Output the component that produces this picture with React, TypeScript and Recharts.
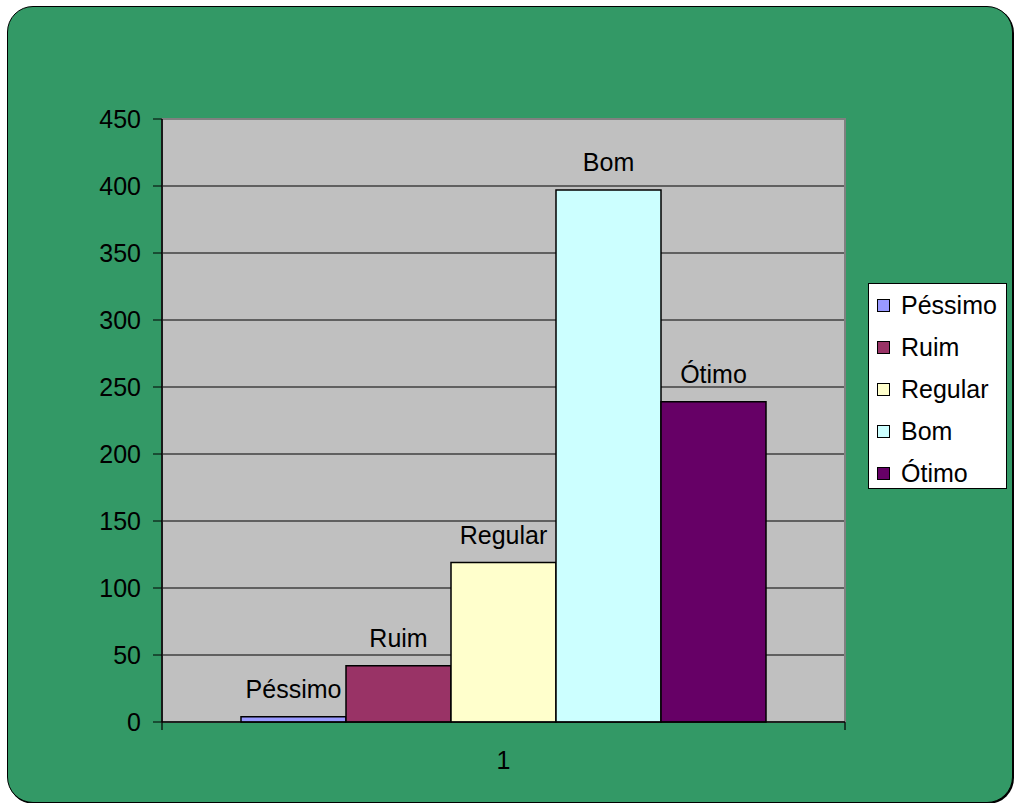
import React from "react";
import * as R from "recharts";
import { BarChart, Bar, XAxis, YAxis, CartesianGrid, Legend, LabelList } from "recharts";

const categories = ["1"];
const seriesNames = ["Péssimo", "Ruim", "Regular", "Bom", "Ótimo"];
const seriesValues = [4, 42, 119, 397, 239];
const seriesColors = ["#9999FF", "#993366", "#FFFFCC", "#CCFFFF", "#660066"];
const yTicks = [0, 50, 100, 150, 200, 250, 300, 350, 400, 450];

const data = categories.map((c) => {
  const row: Record<string, string | number> = { name: c };
  seriesNames.forEach((s, i) => {
    row[s] = seriesValues[i];
  });
  return row;
});

const FONT = "'Liberation Sans', Arial, Helvetica, sans-serif";
const FS = 25;

const usePA: any = (R as any).usePlotArea;

function PlotFrame() {
  const area = usePA ? usePA() : null;
  if (!area) return null;
  const { x, y, width, height } = area;
  return (
    <g>
      <rect x={x} y={y} width={width} height={height} fill="none" stroke="#808080" strokeWidth={2} />
      <line x1={x} y1={y} x2={x} y2={y + height + 8} stroke="#000" strokeWidth={1.2} />
      <line x1={x + width} y1={y + height} x2={x + width} y2={y + height + 8} stroke="#000" strokeWidth={1.2} />
      <line x1={x} y1={y + height} x2={x + width} y2={y + height} stroke="#000" strokeWidth={1.2} />
    </g>
  );
}

function LegendBox(props: any) {
  const payload = [...(props.payload || [])].sort(
    (a: any, b: any) => seriesNames.indexOf(a.value) - seriesNames.indexOf(b.value)
  );
  return (
    <div
      style={{
        width: 139,
        height: 206,
        background: "#fff",
        border: "1px solid #000",
        boxSizing: "border-box",
        fontFamily: FONT,
        fontSize: FS,
        color: "#000",
        paddingTop: 0,
      }}
    >
      {payload.map((p: any, i: number) => (
        <div key={i} style={{ height: 42, display: "flex", alignItems: "center", paddingLeft: 8 }}>
          <span
            style={{
              display: "inline-block",
              width: 13,
              height: 13,
              background: p.color,
              border: "1px solid #000",
              boxSizing: "border-box",
              marginRight: 11,
            }}
          />
          <span style={{ lineHeight: "28px" }}>{p.value}</span>
        </div>
      ))}
    </div>
  );
}

export default function App() {
  return (
    <div style={{ position: "absolute", left: 0, top: 0, width: 1014, height: 803 }}>
      <div
        style={{
          position: "absolute",
          left: 7,
          top: 6,
          width: 1006,
          height: 797,
          boxSizing: "border-box",
          background: "#339966",
          border: "1.5px solid #000",
          borderRadius: 26,
          boxShadow: "1px 1px 0 #000",
        }}
      />
      <div style={{ position: "absolute", left: 0, top: 0 }}>
        <BarChart
          width={1014}
          height={803}
          data={data}
          margin={{ top: 119, right: 169, left: 102, bottom: 41 }}
          barCategoryGap={79}
          barGap={0}
          style={{ fontFamily: FONT }}
        >
          <CartesianGrid horizontal vertical={false} fill="#C0C0C0" stroke="#000" strokeOpacity={1} />
          <PlotFrame />
          <XAxis
            dataKey="name"
            tickLine={false}
            tickSize={0}
            tickMargin={29}
            height={40}
            axisLine={{ stroke: "#000" }}
            tick={{ fill: "#000", fontSize: FS, fontFamily: FONT }}
          />
          <YAxis
            type="number"
            domain={[0, 450]}
            ticks={yTicks}
            interval={0}
            width={60}
            tickSize={9}
            tickMargin={12}
            axisLine={{ stroke: "#000" }}
            tickLine={{ stroke: "#000" }}
            tick={{ fill: "#000", fontSize: FS, fontFamily: FONT }}
          />
          <Legend
            layout="vertical"
            align="center"
            verticalAlign="middle"
            itemSorter={null as any}
            wrapperStyle={{ left: 868, top: 283, width: 139, height: 206 }}
            content={<LegendBox />}
          />
          {seriesNames.map((s, i) => (
            <Bar
              key={s}
              dataKey={s}
              name={s}
              fill={seriesColors[i]}
              stroke="#000"
              strokeWidth={1.5}
              isAnimationActive={false}
            >
              <LabelList
                dataKey={s}
                position="top"
                offset={19}
                formatter={() => s}
                fill="#000"
                fontSize={FS}
                fontFamily={FONT}
              />
            </Bar>
          ))}
        </BarChart>
      </div>
    </div>
  );
}
